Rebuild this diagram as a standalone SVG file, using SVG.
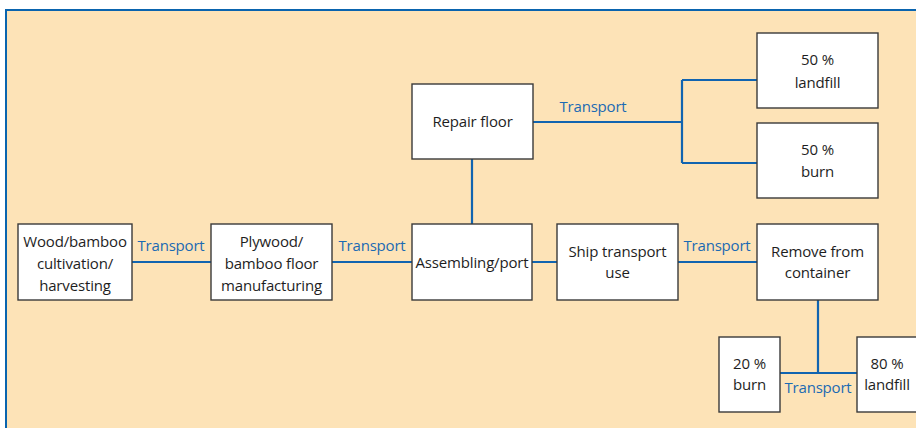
<svg xmlns="http://www.w3.org/2000/svg" width="916" height="428" viewBox="0 0 916 428">
<style>
.box{fill:#fff;stroke:#3a3a3a;stroke-width:1.4}
.t{font-family:"Open Sans","Liberation Sans",sans-serif;font-size:15px;letter-spacing:-0.15px;fill:#1e1e1e;text-anchor:middle}
.tr{font-family:"Open Sans","Liberation Sans",sans-serif;font-size:15px;letter-spacing:-0.2px;fill:#1b6ab3;text-anchor:middle}
.ln{stroke:#1164b0;stroke-width:2.2;fill:none}
</style>
<rect x="6" y="10" width="915" height="425" fill="#fde3b7" stroke="#0a64ae" stroke-width="2"/>
<g id="connectors">
<path class="ln" d="M132 262H211M332 262H412M532 262H557M678 262H757"/>
<path class="ln" d="M472 159V224M533 122H682M682 80V163M682 80H757M682 163H757"/>
<path class="ln" d="M818 300V373M780 373H857"/>
<text class="tr" x="171" y="251">Transport</text>
<text class="tr" x="372" y="251">Transport</text>
<text class="tr" x="593" y="112">Transport</text>
<text class="tr" x="717" y="251">Transport</text>
<text class="tr" x="818" y="393">Transport</text>
</g>
<g id="wood"><rect class="box" x="18" y="224" width="114" height="76"/>
<text class="t" x="75" y="247">Wood/bamboo</text><text class="t" x="75" y="269">cultivation/</text><text class="t" x="75" y="291">harvesting</text></g>
<g id="plywood"><rect class="box" x="211" y="224" width="121" height="76"/>
<text class="t" x="271.5" y="247">Plywood/</text><text class="t" x="271.5" y="269">bamboo floor</text><text class="t" x="271.5" y="291">manufacturing</text></g>
<g id="assembling"><rect class="box" x="412" y="224" width="120" height="76"/>
<text class="t" x="472" y="268">Assembling/port</text></g>
<g id="ship"><rect class="box" x="557" y="224" width="121" height="76"/>
<text class="t" x="617.5" y="257">Ship transport</text><text class="t" x="617.5" y="278">use</text></g>
<g id="remove"><rect class="box" x="757" y="224" width="121" height="76"/>
<text class="t" x="817.5" y="257">Remove from</text><text class="t" x="817.5" y="278">container</text></g>
<g id="repair"><rect class="box" x="412" y="84" width="121" height="75"/>
<text class="t" x="472.5" y="127">Repair floor</text></g>
<g id="landfill50"><rect class="box" x="757" y="33" width="121" height="75"/>
<text class="t" x="817.5" y="65">50 %</text><text class="t" x="817.5" y="88">landfill</text></g>
<g id="burn50"><rect class="box" x="757" y="123" width="121" height="75"/>
<text class="t" x="817.5" y="155">50 %</text><text class="t" x="817.5" y="177">burn</text></g>
<g id="burn20"><rect class="box" x="719" y="337" width="61" height="75"/>
<text class="t" x="749.5" y="369">20 %</text><text class="t" x="749.5" y="390">burn</text></g>
<g id="landfill80"><rect class="box" x="857" y="337" width="62" height="75"/>
<text class="t" x="887" y="369">80 %</text><text class="t" x="887" y="390">landfill</text></g>
</svg>
